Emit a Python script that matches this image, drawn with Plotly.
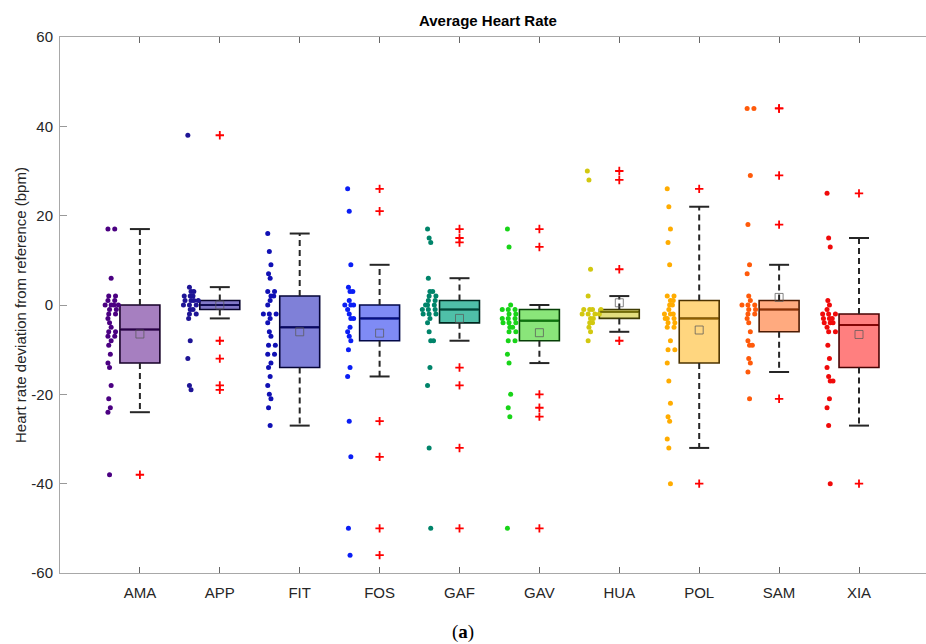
import plotly.graph_objects as go

# ---------------- data ----------------
categories = ["AMA", "APP", "FIT", "FOS", "GAF", "GAV", "HUA", "POL", "SAM", "XIA"]

AMA = [17, 17, 6, 2, 2, 1, 1, 0, 0, 0, 0, -1, -1, -2, -2, -3, -4, -5, -6, -6, -7, -7,
       -8, -9, -11, -13, -14, -18, -21, -23, -24, -38]
APP = [38, 4, 3, 3, 2, 2, 2, 1, 1, 1, 1, 0, 0, 0, -1, -1, -2, -2, -3, -8, -12, -18, -19]
FIT = [16, 12, 9, 7, 6, 3, 3, 2, 2, 1, 0, -2, -2, -2, -3, -4, -6, -7, -9, -9, -11, -11,
       -13, -14, -16, -18, -20, -21, -23, -27]
FOS = [26, 21, 9, 4, 3, 3, 1, 0, 0, 0, -1, -2, -3, -3, -5, -6, -7, -8, -10, -14, -16,
       -26, -34, -50, -56]
GAF = [17, 15, 14, 6, 3, 3, 2, 2, 1, 1, 0, 0, 0, -1, -1, -1, -2, -2, -2, -3, -4, -6,
       -8, -8, -14, -18, -32, -50]
GAV = [17, 13, 0, -1, -1, -1, -2, -2, -3, -3, -3, -4, -4, -4, -5, -5, -6, -6, -8, -8,
       -11, -13, -20, -23, -25, -50]
HUA = [30, 28, 8, 2, -1, -1, -1, -1, -2, -2, -2, -2, -3, -3, -4, -4, -5, -6, -8]
POL = [26, 22, 17, 14, 9, 2, 2, 1, 1, 0, 0, -1, -2, -2, -2, -3, -3, -3, -4, -4, -5, -5,
       -8, -10, -10, -13, -17, -22, -25, -26, -30, -32, -40]
SAM = [44, 44, 29, 18, 9, 7, 2, 1, 0, 0, 0, -1, -1, -2, -2, -3, -4, -6, -8, -9, -9,
       -12, -13, -15, -21]
XIA = [25, 15, 13, 1, 0, -1, -2, -2, -2, -3, -3, -3, -4, -4, -4, -5, -6, -6, -9, -12,
       -14, -16, -17, -17, -21, -23, -27, -40]

series = [AMA, APP, FIT, FOS, GAF, GAV, HUA, POL, SAM, XIA]

# box statistics
q1 = [-13, -1, -14, -8, -4, -8, -3, -13, -6, -14]
median = [-5.5, 0, -5, -3, -1, -3.5, -1.5, -3, -1, -4.5]
q3 = [0, 1, 2, 0, 1, -1, -1, 1, 1, -2]
whisker_lo = [-24, -3, -27, -16, -8, -13, -6, -32, -15, -27]
whisker_hi = [17, 4, 16, 9, 6, 0, 2, 22, 9, 15]
means = [-6.5, 0, -6, -6.3, -3, -6.2, 0.5, -5.6, 1.7, -6.6]

yticks = [-60, -40, -20, 0, 20, 40, 60]

# ---------------- styles ----------------
dot_colors = ["#4B0082", "#1E1496", "#1010B4", "#0A1EF5", "#00846A",
              "#18D418", "#D2C810", "#FFAC00", "#FF5A0A", "#F00A0A"]
fill_colors = ["#A67FC0", "#8077C8", "#7F80D8", "#7F8BF5", "#4FBFA8",
               "#8AE57A", "#E3DE7E", "#FFD67F", "#FFAA7F", "#FF7F7F"]


def darker(hexc, f):
    h = hexc.lstrip("#")
    r, g, b = (int(h[k:k + 2], 16) for k in (0, 2, 4))
    return "rgb(%d,%d,%d)" % (r * f, g * f, b * f)


DOT_OFFSET = -0.38
BOX_W = 0.5
CAP_HALF = 0.125
FONT = "Liberation Sans, Arial, Helvetica, sans-serif"

fig = go.Figure()

# jittered raw points
for i, vals in enumerate(series, start=1):
    seen = {}
    xs = []
    for k, v in enumerate(vals):
        n = seen.get(v, 0)
        seen[v] = n + 1
        dup = [0, 0.065, -0.065, 0.13, -0.13][n % 5]
        wob = ((k * 7) % 5 - 2) * 0.01
        xs.append(i + DOT_OFFSET + dup + wob)
    fig.add_trace(go.Scatter(x=xs, y=vals, mode="markers",
                             marker=dict(size=5, color=dot_colors[i - 1]),
                             showlegend=False, hoverinfo="y"))

# dashed whiskers
wx, wy = [], []
for i in range(1, len(categories) + 1):
    wx += [i, i, None, i, i, None]
    wy += [q3[i - 1], whisker_hi[i - 1], None, q1[i - 1], whisker_lo[i - 1], None]
fig.add_trace(go.Scatter(x=wx, y=wy, mode="lines",
                         line=dict(color="#262626", width=2, dash="6px,4px"),
                         showlegend=False, hoverinfo="skip"))

# boxes
for i in range(1, len(categories) + 1):
    fig.add_trace(go.Box(x=[i], q1=[q1[i - 1]], median=[median[i - 1]], q3=[q3[i - 1]],
                         lowerfence=[q1[i - 1]], upperfence=[q3[i - 1]],
                         width=BOX_W, whiskerwidth=0,
                         fillcolor=fill_colors[i - 1],
                         line=dict(color=darker(dot_colors[i - 1], 0.3), width=1.6),
                         showlegend=False, hoverinfo="skip"))
    # coloured median line
    fig.add_trace(go.Scatter(x=[i - BOX_W / 2 + 0.01, i + BOX_W / 2 - 0.01],
                             y=[median[i - 1], median[i - 1]], mode="lines",
                             line=dict(color=darker(dot_colors[i - 1], 0.55), width=2),
                             showlegend=False, hoverinfo="skip"))

# whisker caps
cx, cy = [], []
for i in range(1, len(categories) + 1):
    for v in (whisker_hi[i - 1], whisker_lo[i - 1]):
        cx += [i - CAP_HALF, i + CAP_HALF, None]
        cy += [v, v, None]
fig.add_trace(go.Scatter(x=cx, y=cy, mode="lines",
                         line=dict(color="#262626", width=2),
                         showlegend=False, hoverinfo="skip"))

# mean markers
fig.add_trace(go.Scatter(x=list(range(1, len(categories) + 1)), y=means, mode="markers",
                         marker=dict(symbol="square-open", size=8,
                                     color="rgba(90,90,90,0.75)", line=dict(width=1)),
                         showlegend=False, hoverinfo="y"))

# outliers (values beyond the whiskers)
ox, oy = [], []
for i, vals in enumerate(series, start=1):
    for v in vals:
        if v > whisker_hi[i - 1] or v < whisker_lo[i - 1]:
            ox.append(i)
            oy.append(v)
fig.add_trace(go.Scatter(x=ox, y=oy, mode="markers",
                         marker=dict(symbol="cross-thin", size=6,
                                     line=dict(width=1.8, color="#FF0000")),
                         showlegend=False, hoverinfo="y"))

L, T, B = 60, 37, 71
W, H = 926, 644
pw = W - L
ph = H - T - B

fig.update_layout(
    width=W, height=H,
    margin=dict(l=L, r=0, t=T, b=B, pad=0),
    paper_bgcolor="white", plot_bgcolor="white",
    font=dict(family=FONT, size=14, color="#262626"),
    xaxis=dict(range=[0, pw / 79.9], tickvals=list(range(1, len(categories) + 1)),
               ticktext=categories, ticks="inside", ticklen=6, tickcolor="#666",
               showline=True, linecolor="#a8a8a8", linewidth=1, mirror="ticks",
               showgrid=False, zeroline=False, ticklabelstandoff=6,
               tickfont=dict(size=15, color="#262626")),
    yaxis=dict(range=[-60, 60], tickvals=yticks, ticktext=[str(v) for v in yticks],
               ticks="inside", ticklen=7,
               tickcolor="#999", showline=True, linecolor="#a8a8a8", linewidth=1,
               showgrid=False, zeroline=False, ticklabelstandoff=3,
               tickfont=dict(size=15, color="#262626")),
    annotations=[
        dict(text="<b>Average Heart Rate</b>", xref="paper", yref="paper",
             x=(488 - L) / pw, y=(H - B - 20) / ph, xanchor="center", yanchor="middle",
             showarrow=False, font=dict(size=15, color="black", family=FONT)),
        dict(text="Heart rate deviation from reference (bpm)", xref="paper", yref="paper",
             x=(20 - L) / pw, y=0.5, xanchor="center", yanchor="middle", textangle=-90,
             showarrow=False, font=dict(size=15, color="#262626", family=FONT)),
        dict(text="(<b>a</b>)", xref="paper", yref="paper",
             x=(463 - L) / pw, y=(H - B - 632) / ph, xanchor="center", yanchor="middle",
             showarrow=False,
             font=dict(size=19, color="black", family="Liberation Serif, Times New Roman, serif")),
    ],
)

fig.write_html("out.html", config={"displayModeBar": False},
               post_script="document.body.style.margin='0px';")
